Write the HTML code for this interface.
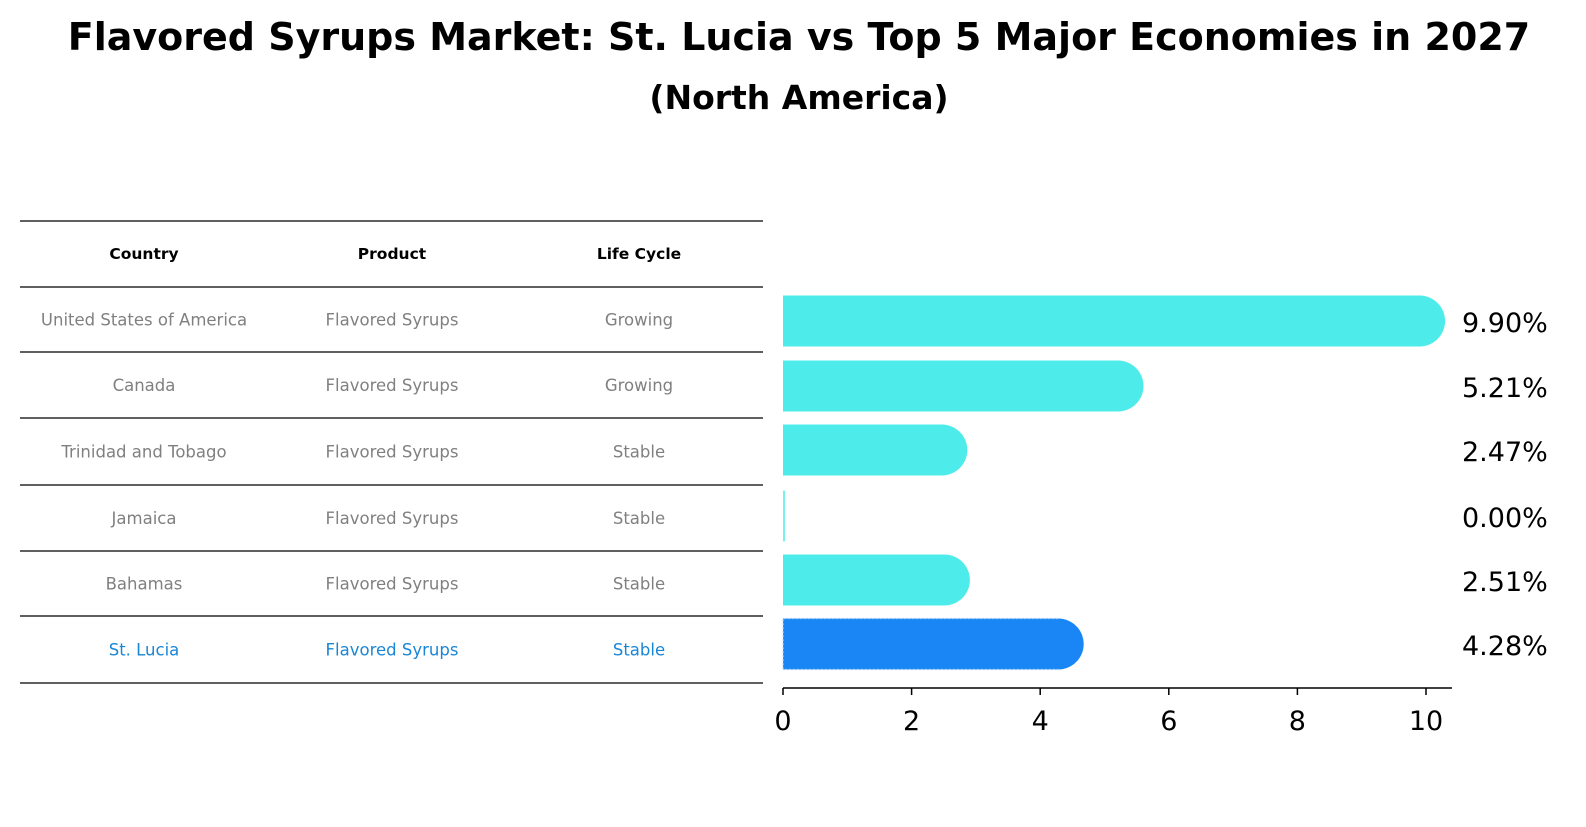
<!DOCTYPE html>
<html><head><meta charset="utf-8"><style>
body{margin:0;background:#fff;font-family:"DejaVu Sans","Liberation Sans",sans-serif}
svg text{font-family:"DejaVu Sans","Liberation Sans",sans-serif}
</style></head><body>
<svg width="1586" height="823" viewBox="0 0 1586 823">
<text x="799" y="50" text-anchor="middle" font-size="38" font-weight="bold">Flavored Syrups Market: St. Lucia vs Top 5 Major Economies in 2027</text>
<text x="799" y="109" text-anchor="middle" font-size="33" font-weight="bold">(North America)</text>
<g id="table"></g>
<g id="bars"></g>
</svg>
<script>
const countries=["United States of America","Canada","Trinidad and Tobago","Jamaica","Bahamas","St. Lucia"];
const products=["Flavored Syrups","Flavored Syrups","Flavored Syrups","Flavored Syrups","Flavored Syrups","Flavored Syrups"];
const lifeCycles=["Growing","Growing","Stable","Stable","Stable","Stable"];
const values=[9.90,5.21,2.47,0.00,2.51,4.28];
const ticks=[0,2,4,6,8,10];
const NS="http://www.w3.org/2000/svg";
function mk(t,a,p){const e=document.createElementNS(NS,t);for(const k in a)e.setAttribute(k,a[k]);p.appendChild(e);return e;}
const tbl=document.getElementById('table'),bars=document.getElementById('bars');
const lineYs=[221,287,352,418,485,551,616,683];
lineYs.forEach((y,i)=>{const l=mk('line',{x1:20,x2:763,y1:y,y2:y,stroke:'#000','stroke-width':1.2},tbl);
});
const colX=[144,392,639];
["Country","Product","Life Cycle"].forEach((h,i)=>{const t=mk('text',{x:colX[i],y:259,'text-anchor':'middle','font-size':15.5,'font-weight':'bold'},tbl);t.textContent=h;
});
const x0=783,xs=64.3;
function X(v){return x0+v*xs;}
const rowY=[321,386,450,516,580,644];
countries.forEach((c,i)=>{
 const last=i===countries.length-1,col=last?'#1a86d6':'#808080';
 [c,products[i],lifeCycles[i]].forEach((s,j)=>{const t=mk('text',{x:colX[j],y:(lineYs[i+1]+lineYs[i+2])/2+6,'text-anchor':'middle','font-size':16.5,fill:col},tbl);t.textContent=s;
 });
 const cy=rowY[i],h=51,w=X(values[i])-x0,fill=last?'#1a86f5':'#4deceb';
 const g=mk('g',{},bars);
 
 if(values[i]>0){
  mk('rect',{x:x0,y:cy-h/2,width:w,height:h,fill:fill},g);
  mk('circle',{cx:X(values[i]),cy:cy,r:h/2,fill:fill},g);
  if(last) mk('path',{d:`M${X(values[i])},${cy-h/2} H${x0} V${cy+h/2} H${X(values[i])}`,fill:'none',stroke:'#b5d8fa','stroke-width':1.2,'stroke-dasharray':'2 2'},g);
 } else mk('line',{x1:x0+1,x2:x0+1,y1:cy-h/2,y2:cy+h/2,stroke:fill,'stroke-width':1.5},g);
 const t=mk('text',{x:1462,y:cy+11,'font-size':27},bars);t.textContent=values[i].toFixed(2)+'%';
 
});
const ax=mk('line',{x1:x0,x2:1452,y1:688,y2:688,stroke:'#000','stroke-width':1.5},bars);

ticks.forEach(v=>{const l=mk('line',{x1:X(v),x2:X(v),y1:688,y2:695,stroke:'#000','stroke-width':1.5},bars);

const t=mk('text',{x:X(v),y:730,'text-anchor':'middle','font-size':27},bars);t.textContent=v;
});
</script>
</body></html>
